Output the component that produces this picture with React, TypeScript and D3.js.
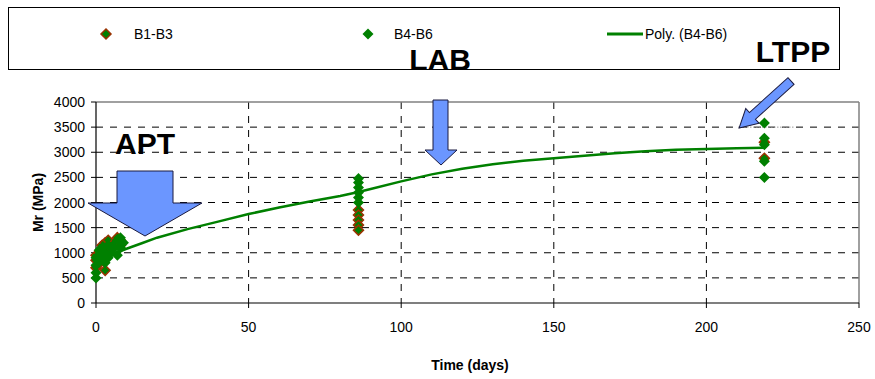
import * as d3 from 'd3';

const W = 875;
const H = 379;
const [left, right, top, bottom] = [96, 859, 102, 303];

const xTicks = [0, 50, 100, 150, 200, 250];
const yTicks = [0, 500, 1000, 1500, 2000, 2500, 3000, 3500, 4000];

// B1-B3 (day, Mr)
const b13Days = [0, 0, 0, 1, 1, 2, 2, 3, 3, 4, 4, 5, 6, 7, 8, 8, 86, 86, 86, 86, 86, 219, 219];
const b13Vals = [850, 700, 950, 1000, 780, 1150, 900, 1200, 650, 1050, 1250, 1100, 1200, 1300, 1250, 1150, 1850, 1750, 1650, 1550, 1450, 3200, 2880];

// B4-B6 (day, Mr)
const b46Days = [0, 0, 0, 0, 1, 1, 2, 2, 3, 3, 4, 4, 5, 6, 7, 7, 8, 8, 9, 86, 86, 86, 86, 86, 86, 219, 219, 219, 219, 219];
const b46Vals = [500, 600, 750, 900, 1050, 850, 950, 1100, 1000, 800, 1150, 900, 1000, 1100, 950, 1250, 1300, 1100, 1200, 2480, 2400, 2300, 2200, 2100, 2000, 3580, 3280, 3150, 2820, 2500];

// Poly. (B4-B6) trend line
const polyDays = [0, 5, 10, 15, 20, 30, 40, 50, 60, 70, 80, 86, 90, 100, 110, 120, 130, 140, 150, 160, 170, 180, 190, 200, 210, 219];
const polyVals = [850, 960, 1080, 1190, 1300, 1470, 1620, 1770, 1900, 2020, 2130, 2210, 2270, 2420, 2560, 2670, 2760, 2830, 2880, 2930, 2980, 3020, 3050, 3065, 3080, 3090];

const green = '#008000';
const brown = '#993300';
const arrowBlue = '#6b96ff';
const font = 'Arial, "Liberation Sans", sans-serif';

const x = d3.scaleLinear().domain([0, 250]).range([left, right]);
const y = d3.scaleLinear().domain([0, 4000]).range([bottom, top]);

const diamond = (cx: number, cy: number, r: number) =>
  `M${cx},${cy - r}L${cx + r},${cy}L${cx},${cy + r}L${cx - r},${cy}Z`;

function arrowPath(len: number, shaftW: number, headW: number, headL: number) {
  // pointing along +x, tip at (len, 0)
  const s = shaftW / 2;
  const h = headW / 2;
  return `M0,${-s}L${len - headL},${-s}L${len - headL},${-h}L${len},0L${len - headL},${h}L${len - headL},${s}L0,${s}Z`;
}

export default function App() {
  const line = d3
    .line<number>()
    .x((d) => x(d))
    .y((_, i) => y(polyVals[i]));

  return (
    <div style={{ position: 'absolute', left: 0, top: 0 }}>
      <svg width={W} height={H} style={{ display: 'block', background: '#fff' }} fontFamily={font}>
        {/* legend */}
        <rect x={8.5} y={7.5} width={831} height={62} fill="#fff" stroke="#000" strokeWidth={1} />
        <path d={diamond(106, 34, 5)} fill={green} stroke={brown} strokeWidth={1.5} />
        <text x={134} y={39} fontSize={14}>B1-B3</text>
        <path d={diamond(368, 34, 5.5)} fill={green} />
        <text x={394} y={39} fontSize={14}>B4-B6</text>
        <line x1={607} x2={643} y1={34} y2={34} stroke={green} strokeWidth={3} />
        <text x={645} y={39} fontSize={14}>Poly. (B4-B6)</text>

        {/* grid */}
        {yTicks.slice(1, -1).map((t) => (
          <line key={'gy' + t} x1={left} x2={right} y1={y(t)} y2={y(t)} stroke="#000" strokeDasharray="7,7" strokeWidth={1} />
        ))}
        {xTicks.slice(1, -1).map((t) => (
          <line key={'gx' + t} x1={x(t)} x2={x(t)} y1={top} y2={bottom} stroke="#000" strokeDasharray="7,7" strokeWidth={1} />
        ))}
        <line x1={left} x2={right} y1={top} y2={top} stroke="#808080" strokeWidth={1.5} />
        <line x1={right} x2={right} y1={top} y2={bottom} stroke="#808080" strokeWidth={1.5} />
        <line x1={738} x2={795} y1={y(3500)} y2={y(3500)} stroke="#999" strokeDasharray="1.5,1.5" />

        {/* axes */}
        <line x1={left} x2={left} y1={top} y2={bottom} stroke="#000" strokeWidth={1.2} />
        <line x1={left} x2={right} y1={bottom} y2={bottom} stroke="#000" strokeWidth={1.2} />
        {yTicks.map((t) => (
          <g key={'ty' + t}>
            <line x1={left - 5} x2={left} y1={y(t)} y2={y(t)} stroke="#000" />
            <text x={left - 11} y={y(t) + 5} fontSize={14} textAnchor="end">{t}</text>
          </g>
        ))}
        {xTicks.map((t) => (
          <g key={'tx' + t}>
            <line x1={x(t)} x2={x(t)} y1={bottom} y2={bottom + 5} stroke="#000" />
            <text x={x(t)} y={bottom + 29} fontSize={14} textAnchor="middle">{t}</text>
          </g>
        ))}
        <text x={470} y={370} fontSize={14} fontWeight="bold" textAnchor="middle">Time (days)</text>
        <text transform={`translate(43,${(top + bottom) / 2}) rotate(-90)`} fontSize={14} fontWeight="bold" textAnchor="middle">Mr (MPa)</text>

        {/* trend line */}
        <path d={line(polyDays) ?? ''} fill="none" stroke={green} strokeWidth={2.5} />

        {/* series */}
        {b13Days.map((d, i) => (
          <path key={'a' + i} d={diamond(x(d), y(b13Vals[i]), 5)} fill={green} stroke={brown} strokeWidth={1.5} />
        ))}
        {b46Days.map((d, i) => (
          <path key={'b' + i} d={diamond(x(d), y(b46Vals[i]), 5.5)} fill={green} />
        ))}

        {/* annotations */}
        <path d="M117,171L173,171L173,203L202,203L145,236L88,203L117,203Z" fill={arrowBlue} stroke="#1a1a40" strokeWidth={1} />
        <path d="M433,100L448,100L448,150L457,150L441,165L425,150L433,150Z" fill={arrowBlue} stroke="#1a1a40" strokeWidth={1} />
        <path
          d={arrowPath(70, 9, 20, 18)}
          transform={`translate(791,81) rotate(${(Math.atan2(48, -53) * 180) / Math.PI})`}
          fill={arrowBlue}
          stroke="#1a1a40"
          strokeWidth={1}
        />
        <text x={145} y={154} fontSize={30} fontWeight="bold" textAnchor="middle">APT</text>
        <text x={440} y={70} fontSize={30} fontWeight="bold" textAnchor="middle">LAB</text>
        <text x={793} y={62} fontSize={30} fontWeight="bold" textAnchor="middle">LTPP</text>
      </svg>
    </div>
  );
}
